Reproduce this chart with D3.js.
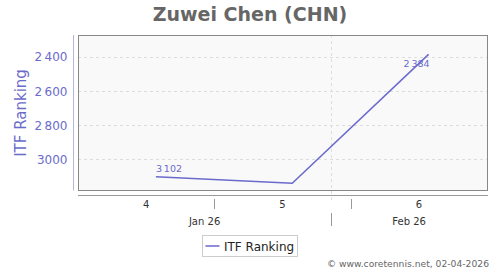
<!DOCTYPE html>
<html>
<head>
<meta charset="utf-8">
<script src="https://cdn.jsdelivr.net/npm/d3@7"></script>
<style>
  html, body { margin: 0; padding: 0; background: #fff; }
  svg { display: block; font-family: "DejaVu Sans", sans-serif; }
</style>
</head>
<body>
<div id="chart"></div>
<script>
// ranking data (weekly)
const dates = ["2026-01-23", "2026-01-30", "2026-02-06"];
const ranks = [3102, 3141, 2384];
const pointLabels = ["3\u2009102", null, "2\u2009384"];

// axis labels
const yTicks = [2400, 2600, 2800, 3000];
const yTickLabels = ["2\u2009400", "2\u2009600", "2\u2009800", "3000"];
const weekStarts = ["2026-01-19", "2026-01-26", "2026-02-02", "2026-02-09"];
const weekLabels = ["4", "5", "6"];
const monthStarts = ["2026-01-19", "2026-02-01", "2026-02-09"];
const monthLabels = ["Jan 26", "Feb 26"];

const width = 500, height = 270;
const plot = { left: 78, right: 487, top: 35, bottom: 190 };
const parse = d3.utcParse("%Y-%m-%d");
const lineColor = "#6a6acd";

const svg = d3.select("#chart").append("svg")
    .attr("width", width)
    .attr("height", height);

const x = d3.scaleUtc()
    .domain([parse(weekStarts[0]), parse(weekStarts[weekStarts.length - 1])])
    .range([plot.left, plot.right]);

const y = d3.scaleLinear()
    .domain([2270, 3180])
    .range([plot.top, plot.bottom]);

// title
svg.append("text")
    .attr("x", 250)
    .attr("y", 21)
    .attr("text-anchor", "middle")
    .style("font-size", "19px")
    .style("font-weight", "bold")
    .style("fill", "#666")
    .text("Zuwei Chen (CHN)");

// plot background
svg.append("rect")
    .attr("x", plot.left + 0.5)
    .attr("y", plot.top + 0.5)
    .attr("width", plot.right - plot.left)
    .attr("height", plot.bottom - plot.top)
    .style("fill", "#f9f9f9")
    .style("stroke", "none");

// horizontal grid
svg.append("g")
    .selectAll("line")
    .data(yTicks)
    .join("line")
    .attr("x1", plot.left)
    .attr("x2", plot.right)
    .attr("y1", d => Math.round(y(d)) + 0.5)
    .attr("y2", d => Math.round(y(d)) + 0.5)
    .style("stroke", "#ddd")
    .style("stroke-dasharray", "3,3");

// vertical grid at month boundary
svg.append("g")
    .selectAll("line")
    .data(monthStarts.slice(1, -1))
    .join("line")
    .attr("x1", d => Math.round(x(parse(d))) + 0.5)
    .attr("x2", d => Math.round(x(parse(d))) + 0.5)
    .attr("y1", plot.top)
    .attr("y2", plot.bottom + 10)
    .style("stroke", "#ddd")
    .style("stroke-dasharray", "3,3");

// plot border
svg.append("rect")
    .attr("x", plot.left + 0.5)
    .attr("y", plot.top + 0.5)
    .attr("width", plot.right - plot.left)
    .attr("height", plot.bottom - plot.top)
    .style("fill", "none")
    .style("stroke", "#888");

// y axis
const yAxis = d3.axisLeft(y)
    .tickValues(yTicks)
    .tickSize(0)
    .tickPadding(6)
    .tickFormat((d, i) => yTickLabels[i]);

const yAxisG = svg.append("g")
    .attr("transform", "translate(73.5,0)")
    .call(yAxis);
yAxisG.select(".domain")
    .attr("d", `M0,${plot.top}V${plot.bottom + 0.5}`)
    .style("stroke", "#b4b4e0");
yAxisG.selectAll("text")
    .style("font-family", "DejaVu Sans, sans-serif")
    .style("font-size", "12px")
    .style("fill", "#6b6bcc");

svg.append("text")
    .attr("transform", "translate(26,113) rotate(-90)")
    .attr("text-anchor", "middle")
    .style("font-size", "15px")
    .style("fill", "#6b6bcc")
    .text("ITF Ranking");

// x axis line
svg.append("line")
    .attr("x1", plot.left)
    .attr("x2", plot.right + 1)
    .attr("y1", 195.5)
    .attr("y2", 195.5)
    .style("stroke", "#999");

// week ticks (boundaries) and labels (centres)
const weekG = svg.append("g");
weekG.selectAll("line")
    .data(weekStarts.slice(1, -1))
    .join("line")
    .attr("x1", d => Math.round(x(parse(d))) + 0.5)
    .attr("x2", d => Math.round(x(parse(d))) + 0.5)
    .attr("y1", 199)
    .attr("y2", 209)
    .style("stroke", "#999");
weekG.selectAll("text")
    .data(weekLabels)
    .join("text")
    .attr("x", (d, i) => (x(parse(weekStarts[i])) + x(parse(weekStarts[i + 1]))) / 2)
    .attr("y", 208)
    .attr("text-anchor", "middle")
    .style("font-size", "10px")
    .style("fill", "#333")
    .text(d => d);

// month separators and labels
const monthG = svg.append("g");
monthG.selectAll("line")
    .data(monthStarts.slice(1, -1))
    .join("line")
    .attr("x1", d => Math.round(x(parse(d))) + 0.5)
    .attr("x2", d => Math.round(x(parse(d))) + 0.5)
    .attr("y1", 213)
    .attr("y2", 226)
    .style("stroke", "#999");
monthG.selectAll("text")
    .data(monthLabels)
    .join("text")
    .attr("x", (d, i) => (x(parse(monthStarts[i])) + x(parse(monthStarts[i + 1]))) / 2)
    .attr("y", 224.5)
    .attr("text-anchor", "middle")
    .style("font-size", "10px")
    .style("fill", "#333")
    .text(d => d);

// series line
const points = dates.map((d, i) => ({ date: parse(d), rank: ranks[i], label: pointLabels[i] }));
const line = d3.line()
    .x(d => x(d.date))
    .y(d => y(d.rank));

svg.append("path")
    .datum(points)
    .attr("d", line)
    .style("fill", "none")
    .style("stroke", lineColor)
    .style("stroke-width", 1.5);

// point labels: first above-right, last below-left
svg.append("g")
    .selectAll("text")
    .data(points.filter(p => p.label))
    .join("text")
    .attr("x", d => x(d.date) + (d === points[0] ? 0 : 1))
    .attr("y", d => y(d.rank) + (d === points[0] ? -5 : 13))
    .attr("text-anchor", d => d === points[0] ? "start" : "end")
    .style("font-size", "9.5px")
    .style("fill", lineColor)
    .text(d => d.label);

// legend
const legend = svg.append("g").attr("transform", "translate(202.5,235.5)");
legend.append("rect")
    .attr("width", 95)
    .attr("height", 21)
    .style("fill", "#fff")
    .style("stroke", "#ccc");
legend.append("line")
    .attr("x1", 3)
    .attr("x2", 17)
    .attr("y1", 10.5)
    .attr("y2", 10.5)
    .style("stroke", lineColor)
    .style("stroke-width", 1.5);
legend.append("text")
    .attr("x", 21.5)
    .attr("y", 15)
    .style("font-size", "12px")
    .style("fill", "#222")
    .text("ITF Ranking");

// credits
svg.append("text")
    .attr("x", 489)
    .attr("y", 266.5)
    .attr("text-anchor", "end")
    .style("font-size", "9.2px")
    .style("fill", "#666")
    .text("\u00a9 www.coretennis.net, 02-04-2026");
</script>
</body>
</html>
